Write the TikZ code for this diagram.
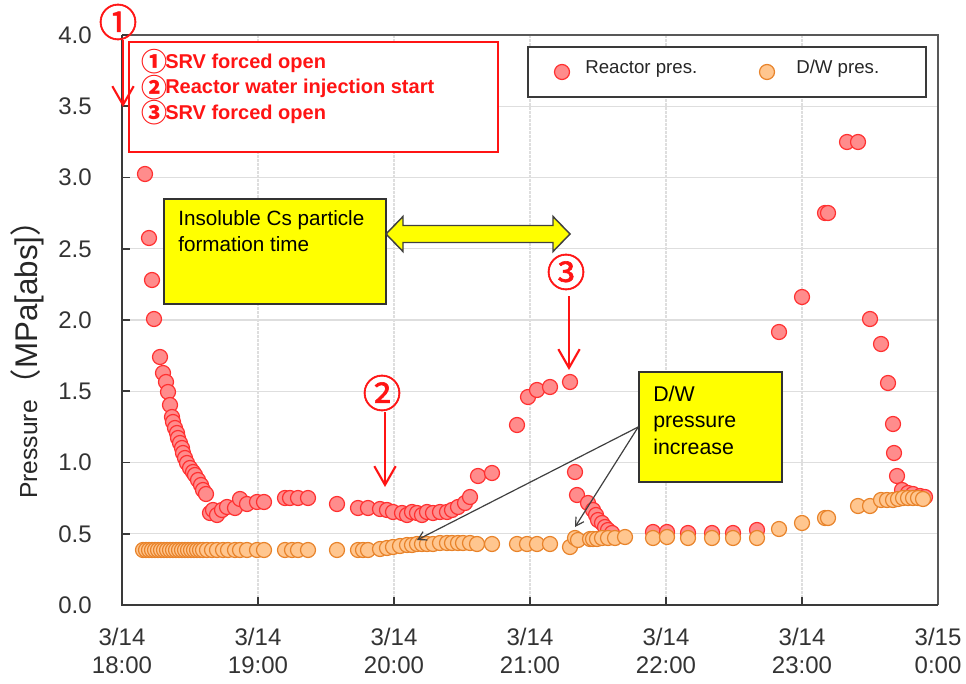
\documentclass[tikz,border=0pt]{standalone}
\usepackage{fontspec}
\setmainfont{Liberation Sans}
\newfontfamily\cjk{Noto Sans CJK JP}
\newfontfamily\cjkheavy[FakeBold=1.6]{Noto Sans CJK JP}
\usetikzlibrary{arrows.meta,fit}

\definecolor{redline}{HTML}{FF3030}
\definecolor{redfill}{HTML}{FF8C8C}
\definecolor{orgline}{HTML}{E8832A}
\definecolor{orgfill}{HTML}{FFC68F}
\definecolor{gridc}{HTML}{DEDEDE}
\definecolor{axisc}{HTML}{3A3A3A}
\definecolor{evred}{HTML}{FF1414}
\definecolor{callout}{HTML}{FFFF00}

% circled event number set inline with the event list
\newcommand{\evnum}[1]{\makebox[16.5pt][c]{\smash{\raisebox{-2.5pt}{\cjk\fontsize{19.5pt}{19.5pt}\selectfont #1}}}}

\begin{document}
\begin{tikzpicture}[x=0.75pt,y=-0.75pt,
  rdot/.style={draw=redline, fill=redfill, line width=0.9pt},
  odot/.style={draw=orgline, fill=orgfill, line width=0.9pt},
  gridline/.style={draw=gridc, line width=0.8pt},
  axisline/.style={draw=axisc, line width=1.5pt},
  frameline/.style={draw=axisc!85, line width=1.2pt},
  ticklab/.style={font=\fontsize{18pt}{21pt}\selectfont, text=black!80, inner sep=0pt},
  eventarrow/.style={draw=evred, line width=1.6pt,
    -{Straight Barb[length=14pt,width=16pt,line width=1.6pt]}},
  eventnum/.style={text=evred, font=\cjkheavy\fontsize{29pt}{29pt}\selectfont, inner sep=0pt},
  callbox/.style={draw=black!80, fill=callout, line width=1.2pt, inner sep=0pt},
  calltext/.style={font=\fontsize{16pt}{19.9pt}\selectfont, align=left, inner sep=0pt, anchor=north west},
  leader/.style={draw=black!75, line width=0.9pt, -{Straight Barb[length=6pt,width=7pt]}},
  legtext/.style={font=\fontsize{14pt}{16pt}\selectfont, text=black!85, inner sep=0pt, anchor=west}
]
\useasboundingbox (0,0) rectangle (966,684);

% ---------- grid ----------
\foreach \i in {1,...,7}
  \draw[gridline] (122,{605-71.25*\i}) -- (938,{605-71.25*\i});
\foreach \i in {1,...,5}
  \draw[gridline, dash pattern=on 2pt off 1pt] ({122+136*\i},35) -- ({122+136*\i},605);

% ---------- frame, axes, ticks ----------
\draw[frameline] (122,35) -- (938,35) -- (938,605);
\draw[axisline] (122,35) -- (122,605) -- (938,605);
\foreach \i in {0,...,8}
  \draw[axisline, line width=1.2pt] (122,{605-71.25*\i}) -- (130,{605-71.25*\i});
\foreach \i in {1,...,5}
  \draw[axisline, line width=1.2pt] ({122+136*\i},605) -- ({122+136*\i},597);

% tick labels
\foreach \v [count=\i from 0] in {0.0,0.5,1.0,1.5,2.0,2.5,3.0,3.5,4.0}
  \node[ticklab, anchor=east] (yl\i) at (92,{605-71.25*\i}) {\v};
\foreach \dd/\tt [count=\i from 0] in {14/18:00,14/19:00,14/20:00,14/21:00,14/22:00,14/23:00,15/0:00}
  \node[ticklab, align=center, font=\fontsize{18pt}{21pt}\selectfont] (xl\i) at ({122+136*\i},651) {3/\dd\\\tt};

% axis title
\node[rotate=90, inner sep=0pt, text=black!85] (ytitle) at (27,352)
  {\fontsize{18.5pt}{20pt}\selectfont Pressure\fontsize{23.5pt}{26pt}\selectfont{\cjk （}MPa[abs]{\cjk ）}};

% ---------- reactor pressure ----------
\foreach \x/\y in {145/174,149/238,152/280,154/319,160/357,163/373,166/382,168/392,170/405,
  172/417,173/422,175/428,177/433,178/438,180/443,182/448,183/453,185/458,187/463,190/468,
  193/472,195/475,198/480,201/485,203/490,206/494,210/513,213/510,217/515,222/510,227/507,
  235/508,240/499,247/504,257/502,264/502,285/498,290/498,298/498,308/498,337/504,358/508,
  368/508,380/509,387/510,393/512,402/513,407/515,412/512,417/513,422/515,427/512,433/513,
  440/512,447/512,452/510,458/507,465/503,470/497,478/476,492/473,517/425,528/397,537/390,
  550/387,570/382,575/472,577/495,588/503,593/510,596/515,598/520,602/523,605/527,608/530,
  612/533,653/532,667/532,688/533,712/533,733/533,757/530,779/332,802/297,825/213,828/213,
  847/142,858/142,870/319,881/344,888/383,893/424,894/453,897/476,902/490,908/493,913/494,
  920/496,925/497}
  \path[rdot] (\x,\y) circle[radius=7.5];

% ---------- D/W pressure ----------
\foreach \x/\y in {143/550,146/550,149/550,152/550,155/550,158/550,161/550,164/550,167/550,
  170/550,173/550,176/550,179/550,182/550,185/550,188/550,191/550,194/550,197/550,200/550,
  203/550,207/550,212/550,217/550,223/550,228/550,235/550,240/550,247/550,257/550,264/550,
  285/550,292/550,298/550,308/550,337/550,358/550,363/550,368/550,380/549,387/548,393/547,
  400/546,407/545,412/545,417/544,422/544,427/544,433/544,440/543,447/543,452/543,458/543,
  463/543,470/543,477/544,492/544,517/544,527/544,537/544,550/544,570/547,575/538,578/540,
  590/539,593/539,597/539,602/538,608/538,615/538,625/537,653/538,667/537,688/538,712/538,
  733/538,757/538,779/529,802/523,825/518,828/518,858/506,870/506,881/500,887/500,893/500,
  898/499,903/498,908/498,913/498,918/498,923/499}
  \path[odot] (\x,\y) circle[radius=7.5];

% ---------- series legend ----------
\node[fit={(528,47)(926,97)}, inner sep=0pt, draw=axisc, line width=1.5pt, fill=white] (legend) {};
\path[rdot] (562,72) circle[radius=7.5];
\node[legtext] (legR) at (585,69) {Reactor pres.};
\path[odot] (767,72) circle[radius=7.5];
\node[legtext] (legD) at (796,69) {D/W pres.};

% ---------- event list ----------
\node[fit={(129,42)(498,152)}, inner sep=0pt, draw=evred, line width=1pt, fill=white] (events) {};
\node[anchor=west, align=left, inner sep=0pt, text=evred,
      font=\bfseries\fontsize{15pt}{19.1pt}\selectfont] (eventlist) at (143,88.5)
  {\evnum{①}SRV forced open\\\evnum{②}Reactor water injection start\\\evnum{③}SRV forced open};

% ---------- event markers ----------
\node[eventnum] (n1) at (118,22) {①};
\coordinate (t1) at (123,107);
\draw[eventarrow] (n1.south -| t1) -- (t1);

\node[eventnum] (n2) at (382,393) {②};
\coordinate (t2top) at (385,412);
\coordinate (t2) at (385,487);
\draw[eventarrow] (t2top) -- (t2);

\node[eventnum] (n3) at (566,272) {③};
\coordinate (t3top) at (569,296);
\coordinate (t3) at (569,370);
\draw[eventarrow] (t3top) -- (t3);

% ---------- particle formation window ----------
\node[callbox, fit={(164,199)(386,304)}] (cs) {};
\node[calltext, font=\fontsize{15.5pt}{19.5pt}\selectfont] (cstext) at (178,210.5)
  {Insoluble Cs particle\\formation time};
\draw[fill=callout, draw=black!75, line width=1.1pt, line join=miter]
  (386,234) -- (403,216.5) -- (403,225.5) -- (553,225.5) -- (553,216.5) -- (570,234)
  -- (553,251.5) -- (553,242.5) -- (403,242.5) -- (403,251.5) -- cycle;

% ---------- D/W pressure increase callout ----------
\node[callbox, fit={(639,372)(782,482)}] (dw) {};
\node[calltext] (dwtext) at (653,385.5) {D/W\\pressure\\increase};
\coordinate (dwA) at (417,540);
\coordinate (dwB) at (575,527);
\draw[leader] (dw.west) -- (dwA);
\draw[leader] (dw.west) -- (dwB);

\end{tikzpicture}
\end{document}
